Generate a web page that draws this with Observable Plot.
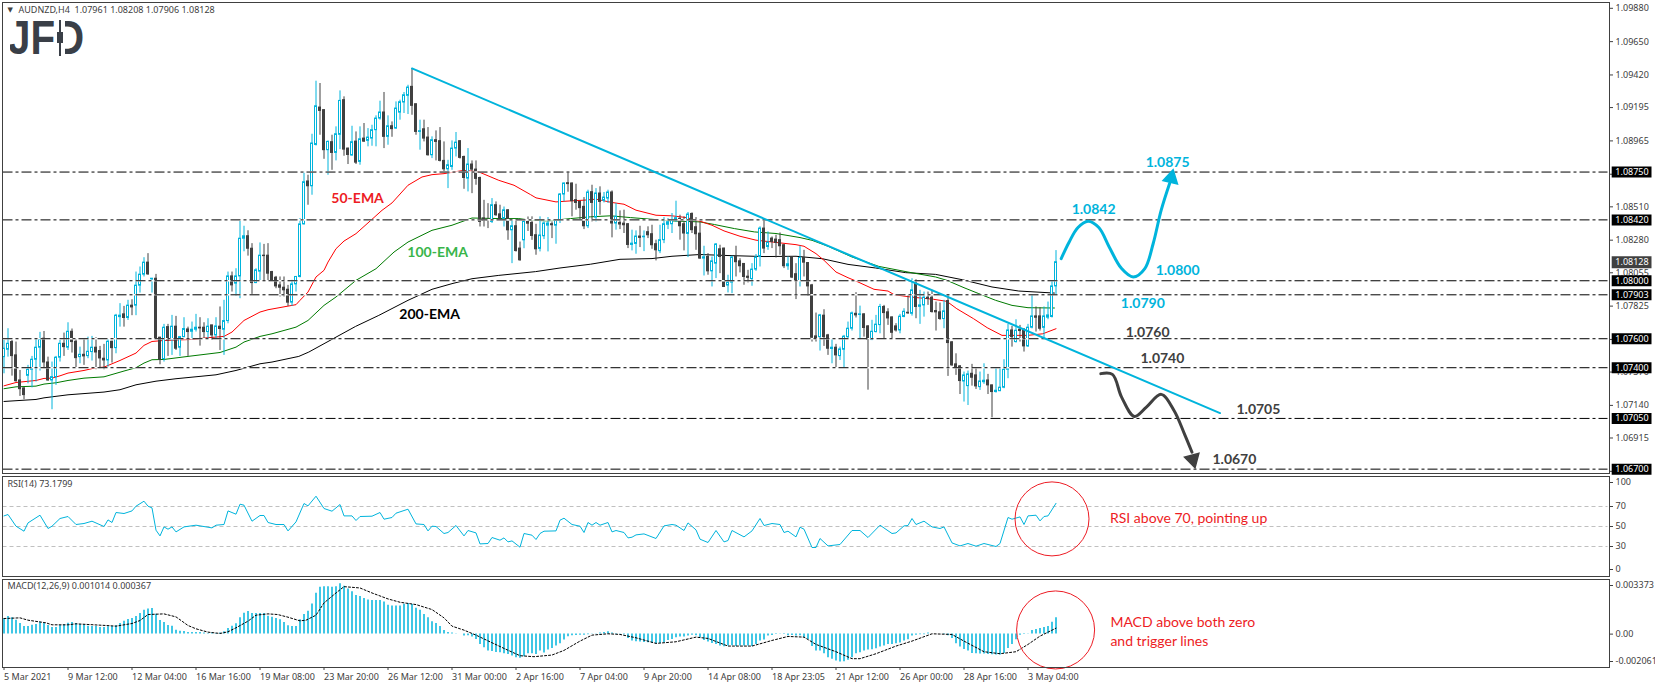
<!DOCTYPE html>
<html><head><meta charset="utf-8">
<script src="https://cdn.jsdelivr.net/npm/d3@7"></script>
<script src="https://cdn.jsdelivr.net/npm/@observablehq/plot@0.6"></script>
<style>
html,body{margin:0;padding:0;background:#fff;width:1655px;height:688px;overflow:hidden}
svg{display:block}
#wrap{position:relative;width:1655px;height:688px}
#logo{position:absolute;left:10px;top:20px;width:76px;height:36px;overflow:hidden;pointer-events:none}
#logo span{position:absolute;left:-2px;top:-4px;font:bold 48px/44px "Liberation Sans",sans-serif;color:#3a3f47;transform:scaleX(.84);transform-origin:left top}
#logo i{position:absolute;display:block}
</style></head><body>
<div id="wrap"></div>
<script>
// ---------- price data, in points (1.07531 = 107531), one entry per 4-hour bar ----------
const opens=[107473,107524,107577,107485,107312,107257,107344,107386,107455,107538,
107600,107436,107312,107335,107469,107565,107538,107648,107579,107473,
107489,107480,107508,107538,107515,107462,107450,107579,107535,107749,
107768,107743,107828,107828,107966,108042,108125,108010,108014,107607,
107460,107680,107595,107683,107538,107611,107664,107648,107662,107676,
107676,107646,107692,107623,107683,107662,107722,108030,107980,108030,
108290,108307,108221,107984,108063,108173,108173,108060,108021,107968,
107952,107938,107849,107975,108026,108389,108685,108652,108937,109195,
109177,108901,108956,108882,109007,109246,108912,108864,108960,108820,
108981,108965,108981,109039,109119,109161,108993,109066,109050,109160,
109230,109276,109338,109218,109027,109045,108988,108866,108970,108963,
108827,108769,108785,108912,108963,108854,108705,108802,108767,108709,
108430,108420,108406,108521,108458,108428,108486,108348,108376,108222,
108279,108406,108399,108314,108220,108307,108380,108390,108380,108413,
108595,108673,108671,108556,108544,108510,108376,108611,108436,108602,
108551,108567,108609,108395,108399,108394,108390,108247,108254,108305,
108300,108335,108321,108252,108204,108280,108386,108390,108413,108427,
108390,108323,108461,108369,108325,108153,108164,108065,108118,108217,
108222,107967,107987,108164,108134,108116,108028,108012,108077,108164,
108360,108233,108291,108284,108280,108245,108100,108160,108045,107998,
108157,108122,107968,107616,107611,107759,107623,107529,107538,107480,
107524,107611,107669,107772,107764,107768,107685,107591,107646,107694,
107819,107782,107747,107685,107657,107750,107779,107772,107980,107820,
107830,107883,107883,107791,107782,107736,107860,107575,107423,107409,
107305,107273,107358,107347,107266,107300,107312,107278,107232,107238,
107262,107386,107657,107577,107662,107662,107547,107676,107754,107754,
107675,107745,107750,107961];
const highs=[107588,107669,107588,107577,107381,107262,107416,107478,107600,107644,
107650,107473,107439,107478,107588,107639,107710,107667,107600,107542,
107593,107611,107616,107607,107547,107561,107600,107583,107768,107842,
107823,107865,107869,108060,108095,108159,108187,108016,108044,107610,
107699,107699,107761,107754,107616,107745,107680,107715,107768,107745,
107710,107738,107692,107745,107819,107865,108060,108060,108083,108410,
108376,108345,108256,108083,108261,108251,108256,108065,108030,108026,
108026,107968,108003,108030,108429,108751,108728,109011,109377,109361,
109180,108965,109004,109062,109310,109269,108915,109066,109027,109062,
109085,109050,109073,109138,109239,109299,109138,109096,109234,109246,
109299,109349,109465,109218,109108,109108,109057,108993,109034,109057,
108958,108831,108965,109023,108965,108860,108912,108827,108827,108715,
108555,108532,108567,108544,108521,108509,108490,108417,108412,108267,
108417,108440,108441,108390,108441,108406,108436,108406,108422,108602,
108675,108751,108675,108666,108549,108574,108625,108659,108636,108648,
108609,108625,108620,108533,108482,108487,108394,108349,108344,108376,
108344,108372,108383,108280,108383,108436,108429,108464,108549,108452,
108441,108471,108468,108436,108406,108238,108187,108164,108257,108245,
108225,108038,108169,108238,108152,108118,108072,108118,108181,108372,
108422,108337,108302,108314,108330,108250,108164,108164,108118,108238,
108210,108125,107975,107777,107768,107800,107630,107600,107561,107542,
107623,107715,107784,107918,107825,107772,107690,107727,107761,107837,
107830,107807,107750,107704,107768,107807,107899,108014,108007,107934,
107922,107922,107934,107853,107846,107865,107899,107580,107496,107415,
107370,107377,107423,107393,107370,107427,107354,107280,107393,107393,
107455,107699,107685,107731,107692,107670,107699,107899,107819,107814,
107819,107853,107998,108208];
const lows=[107358,107473,107342,107300,107202,107179,107289,107261,107301,107377,
107393,107307,107110,107278,107439,107478,107519,107501,107393,107427,
107416,107462,107446,107386,107393,107386,107404,107432,107496,107680,
107680,107726,107759,107759,107915,108026,108037,107915,107595,107420,
107439,107478,107485,107519,107478,107607,107478,107588,107646,107549,
107600,107600,107588,107600,107519,107485,107703,107922,107892,107876,
108200,108170,107906,107980,107998,107998,107998,108000,107945,107888,
107888,107823,107823,107922,108020,108385,108521,108590,108930,109004,
108838,108728,108762,108827,108905,108859,108802,108860,108802,108797,
108955,108924,108928,108924,109108,108912,108935,108990,109045,109108,
109154,109147,109142,109004,108901,108958,108860,108843,108827,108820,
108753,108636,108762,108854,108840,108631,108613,108601,108659,108371,
108371,108360,108395,108445,108417,108371,108279,108118,108198,108135,
108221,108340,108279,108176,108199,108284,108199,108291,108252,108395,
108544,108611,108441,108487,108422,108353,108360,108406,108406,108452,
108537,108533,108296,108349,108353,108326,108222,108206,108183,108229,
108201,108291,108217,108137,108187,108256,108353,108326,108402,108280,
108206,108160,108326,108210,108148,108033,108038,107957,108015,108049,
107955,107916,107911,108026,108054,107969,107985,107962,108065,108095,
108187,108210,108222,108157,108176,108084,108072,108015,107870,107957,
108026,107892,107577,107577,107515,107547,107485,107427,107400,107450,
107400,107600,107653,107743,107593,107611,107245,107587,107640,107634,
107600,107692,107600,107646,107634,107745,107768,107756,107738,107699,
107749,107830,107777,107653,107727,107669,107340,107409,107347,107215,
107163,107139,107273,107250,107243,107285,107215,107054,107225,107235,
107255,107324,107542,107570,107577,107508,107540,107668,107646,107653,
107593,107731,107743,107906];
const closes=[107531,107565,107480,107307,107252,107211,107386,107455,107538,107593,
107436,107312,107335,107469,107565,107542,107648,107577,107466,107489,
107478,107510,107538,107505,107464,107450,107579,107535,107759,107759,
107743,107828,107816,107966,108042,108125,108044,108014,107600,107455,
107676,107588,107683,107531,107611,107667,107646,107662,107676,107671,
107646,107683,107623,107685,107667,107722,108030,107968,108030,108290,
108307,108221,107984,108072,108173,108170,108049,108003,107961,107952,
107934,107849,107975,108026,108389,108680,108652,108947,109204,109172,
108901,108958,108882,109011,109241,108905,108868,108956,108815,108976,
108960,108988,109039,109119,109161,108993,109066,109046,109188,109232,
109280,109333,109207,109027,109032,108981,108866,108970,108958,108827,
108769,108797,108912,108953,108848,108709,108802,108767,108703,108406,
108413,108415,108521,108452,108422,108486,108348,108376,108205,108141,
108406,108394,108309,108217,108312,108395,108395,108383,108418,108595,
108671,108667,108549,108537,108501,108376,108609,108537,108602,108544,
108574,108609,108395,108441,108388,108383,108247,108256,108305,108296,
108304,108314,108245,108210,108280,108390,108404,108413,108432,108376,
108326,108457,108349,108321,108153,108162,108065,108134,108250,108164,
107957,107987,108160,108128,108100,108026,108020,108077,108160,108360,
108222,108263,108268,108261,108238,108100,108114,108022,108003,108157,
108125,107961,107607,107604,107761,107611,107531,107538,107485,107526,
107614,107669,107775,107761,107768,107674,107593,107648,107697,107819,
107777,107740,107641,107657,107752,107786,107775,107934,107819,107830,
107883,107874,107784,107782,107736,107789,107570,107416,107397,107308,
107347,107354,107331,107271,107305,107310,107278,107232,107241,107262,
107386,107657,107611,107655,107653,107547,107676,107754,107745,107669,
107754,107761,107961,108128];

// moving averages: bar number and value in points
const ema50Bars=[0,3,8,10,12,14,16,20,23,25,29,33,35,37,40,47,51,55,57,60,64,66,73,74,76,78,80,81,83,85,88,92,94.5,97,101,104.5,107,110,115,118.7,123.7,127.5,131.6,133,138,141.6,145,148,152,155,158,163,167,170.6,174,177,180,184,188,198,200,203,205,208,211,213,217.5,221,222.5,226.6,232.4,235.7,238.2,242.4,245.8,249.5,255.9,259.7,263];
const ema50Vals=[107275,107298,107312,107326,107328,107344,107363,107381,107400,107404,107450,107501,107554,107581,107588,107595,107607,107616,107646,107726,107784,107800,107835,107865,107922,108026,108072,108129,108221,108274,108325,108424,108486,108537,108659,108716,108732,108739,108762,108751,108693,108659,108595,108572,108544,108551,108556,108563,108540,108528,108487,108452,108448,108436,108411,108383,108344,108307,108280,108249,108238,108187,108141,108060,108021,107998,107941,107929,107904,107888,107872,107858,107807,107738,107676,107623,107623,107634,107669];
const ema100Bars=[0,3,8,10,13,16,20,25,30,33,35,37,40,46,54,58,60,64,67,73,76,80,83,88,93,97.5,101,107,112,117,123.7,128.7,131.6,136,141.6,146.6,151.6,156.6,161.6,167,174,177.6,182.6,187.6,193,199,202,206,212,218.7,226,232.9,235.7,240,243.7,247.9,252,256,262.6];
const ema100Vals=[107255,107268,107273,107287,107296,107312,107328,107337,107377,107400,107432,107455,107457,107478,107505,107542,107577,107616,107634,107680,107726,107830,107888,108003,108083,108198,108267,108348,108383,108433,108429,108429,108418,108413,108429,108441,108448,108436,108425,108413,108406,108388,108360,108337,108326,108298,108279,108238,108164,108099,108060,108026,108003,107952,107911,107865,107830,107814,107812];
const ema200Bars=[0,8,10,16,25,29,33,38,43,53,58,61,64,67,73.7,76.2,83,87.9,93.7,101,107,112,117,123.7,132.9,139,146.6,154,162,167,174,181,190,198,204.6,211,217.9,225.4,232.9,239.6,247,253.7,262.6];
const ema200Vals=[107167,107181,107192,107213,107232,107248,107282,107307,107324,107351,107381,107404,107427,107439,107478,107508,107611,107685,107761,107865,107941,107980,108014,108037,108063,108088,108114,108148,108153,108169,108181,108174,108167,108169,108152,108113,108088,108056,108044,108007,107957,107929,107915];

// horizontal levels and tick labels of the price pane
const levels=[108750,108420,108000,107903,107600,107400,107050,106700];
const priceTicks=[109880,109650,109420,109195,108965,108735,108510,108280,108055,107825,107595,107370,107140,106915,106685];
const lastPrice=108128;

// RSI(14)
const rsiBars=[0,1,3,5,6,9,11,12,14,16,18,20,22,25,26,27,28,30,32,33,35,36,37,38,39,40,41,42,43,45,48,52,53,55,56,58,59,60,62,64,65,66,68,70,71,73,75,76,78,80,82,84,85,87,88,89,92,94,95,97,98,101,103,105,106,107,108,110,111,113,115,116,118,119,121,122,124,125,126,127,129,130,132,133,134,135,138,139,140,142,144,145,146,147,148,149,151,152,153,155,156,157,158,160,163,165,167,168,170,171,173,174,176,178,180,181,182,185,187,189,190,192,194,195,196,198,199,200,202,203,204,206,209,212,214,216,219,222,223,225,226,227,228,230,232,234,235,237,239,241,243,245,248,249,251,252,254,255,256,258,259,260,261,263];
const rsiVals=[60.6,62,50.3,45.3,53.6,61.3,48,50.3,58,60,52,53,55.3,50,56.6,54,64,63,65.6,70.3,75.3,70.3,68.6,46.3,40.6,49.6,47.3,49.6,44.6,49.6,51.3,48.6,51.3,52,65.6,62.3,72.3,71.3,55.3,61,61,54,52,52,45.6,54.6,73,70.6,80.3,68,65.3,72,60.6,60.6,56,60,60.3,64,57.3,59,63.3,67.3,52.6,52,45.6,50.3,50,43,44,51,40.6,46,43.6,32.6,33,39,36.3,38.6,34.6,35.6,29.3,43,41.3,37,43,45.3,45.6,56.3,58.3,52,50.3,44,54,51.3,54,51.3,54,44.6,46,44,38.6,39.3,41.6,42.6,38,50.6,52,51.3,46,53.6,46.6,37.3,34,46,34.6,36,46,39.6,45.6,58,51,53,52,44,45.3,39.6,49.3,47.3,29,29,38,30.6,32,46,46,39,51.3,43,43.6,50.6,51,58,52,55.3,49.6,48,49.6,33.6,30.6,33,30.3,33,30,33,59,57.3,59.6,52,60.6,61.3,55.6,60,60.6,73.18];
const rsiGuides=[70,50,30];
const rsiTicks=[70,50,30];

// MACD(12,26,9), in millionths
const macdHist=[943,1087,1005,861,656,472,472,554,595,738,
656,533,410,410,533,574,677,718,656,595,
574,492,472,472,410,410,451,472,513,656,
800,902,964,1087,1271,1476,1558,1579,1230,841,
718,533,492,246,185,164,103,103,103,103,
62,41,62,41,62,144,349,492,636,1005,
1292,1394,1271,1271,1271,1271,1107,1046,964,882,
718,513,472,472,882,1210,1415,1866,2522,2891,
2932,2932,2891,2932,3116,2952,2788,2624,2378,2317,
2194,2112,2071,2071,2071,1989,1784,1743,1743,1743,
1845,1886,1825,1599,1476,1210,1005,759,656,472,
226,103,62,20,0,-123,-103,-185,-328,-636,
-841,-1046,-1066,-1128,-1148,-1210,-1251,-1353,-1456,-1497,
-1394,-1210,-1210,-1251,-1046,-1169,-984,-882,-738,-595,
-369,-164,-103,-82,-62,-62,-41,20,20,62,
103,144,62,41,20,-41,-267,-431,-472,-492,
-513,-533,-574,-615,-574,-533,-390,-328,-226,-185,
-185,-123,-62,-103,-226,-390,-492,-574,-636,-738,
-779,-738,-718,-759,-738,-738,-738,-759,-636,-431,
-369,-123,-82,-20,20,-20,-103,-82,-123,-103,
-226,-328,-759,-1046,-1046,-1210,-1456,-1558,-1661,-1722,
-1702,-1620,-1456,-1210,-1148,-1046,-984,-964,-902,-800,
-738,-636,-636,-595,-554,-431,-349,-123,-62,-41,
-41,62,0,0,0,-20,-103,-267,-595,-800,
-943,-1046,-1189,-1210,-1230,-1230,-1251,-1271,-1292,-1292,
-1189,-882,-636,-349,-62,-20,20,226,287,349,
410,472,738,1014];
const signalBars=[0,4,6,10.5,12,16,18,25.5,28,32,34,36,40,43,46,48,51,54,56,58,61,63,66,68.4,71,74,75.5,78,80,83,85,89,92,96,99,103,107,110,112,115,118,122,125,129,132.5,137,140,144,147,151,154,158,163,168,173,176,181,187,192,196,200,203,208,212,214,218,223,227,232,237,240,245,249,253,256,259,263];
const signalVals=[964,1005,861,697,574,574,636,533,492,656,841,1210,1250,1066,533,328,123,41,144,390,800,1169,1250,1210,1046,820,861,1169,1927,2542,2932,2850,2542,2173,1968,1825,1517,1005,492,246,-62,-533,-882,-1333,-1394,-1292,-1005,-431,-62,20,-20,-226,-574,-472,-185,-267,-738,-738,-390,-144,-185,-636,-1087,-1517,-1517,-1210,-738,-431,20,-20,-431,-1087,-1210,-1087,-636,-123,367];
const macdAxisVals=[0.003373,0,-0.002061];

// time axis
const timeTickBars=[0,16,32,48,64,80,96,112,128,144,160,176,192,208,224,240,256];
const timeTickLabels=["5 Mar 2021","9 Mar 12:00","12 Mar 04:00","16 Mar 16:00","19 Mar 08:00","23 Mar 20:00","26 Mar 12:00","31 Mar 00:00","2 Apr 16:00","7 Apr 04:00","9 Apr 20:00","14 Apr 08:00","18 Apr 23:05","21 Apr 12:00","26 Apr 00:00","28 Apr 16:00","3 May 04:00"];

// drawn annotations
const trendBars=[102,304], trendVals=[109465,107087];
const upBars=[264.3,266.3,268.5,271,273.7,276.3,279.4,282.3,285.2,287.3,289.3,291.4];
const upVals=[108153,108268,108367,108411,108367,108233,108084,108026,108084,108257,108487,108671];
const downBars=[274.2,277.1,279.4,282.6,285.6,289.3,292.5,295.1,297];
const downVals=[107359,107354,107197,107064,107128,107216,107105,106944,106817];
const blueTexts=["1.0875","1.0842","1.0800","1.0790"];
const blueBars=[290.9,272.4,293.4,284.7], blueVals=[108813,108493,108072,107844];
const darkTexts=["1.0760","1.0740","1.0705","1.0670"];
const darkBars=[285.9,289.6,313.6,307.6], darkVals=[107644,107464,107112,106767];
const emaTexts=["50-EMA","100-EMA","200-EMA"];
const emaBars=[88.4,108.4,106.4], emaVals=[108569,108196,107768], emaColors=["#ed1c24","#39b54a","#000"];

// ---------- styling ----------
const BLUE="#00b4dc", DARK="#404040", RED="#ed1c24";
const AXF='"Noto Sans",sans-serif', LBL='Lato,sans-serif';
const W=1655, xDomain=[-0.375,401.375];
const p=v=>v/1e5;
const pair=(xs,ys,f=p)=>xs.map((x,i)=>({x,y:f(ys[i])}));
const bars=closes.map((c,i)=>({i,o:p(opens[i]),h:p(highs[i]),l:p(lows[i]),c:p(c),up:c>=opens[i]}));
const col=d=>d.up?BLUE:DARK;
const tagX1=402.05, tagX2=412, tagMid=402.55;

// ---------- price pane ----------
const levelRows=levels.map(p);
const main=Plot.plot({width:W,height:475,marginLeft:2,marginRight:46,marginTop:2,marginBottom:2,
  style:{background:"#fff",overflow:"visible"},
  x:{domain:xDomain,axis:null},
  y:{domain:[1.06670,1.09920],axis:null},
  marks:[
    Plot.line(pair(ema200_b(),ema200Vals),{x:"x",y:"y",stroke:"#000",strokeWidth:1}),
    Plot.line(pair(ema100Bars,ema100Vals),{x:"x",y:"y",stroke:"#007a00",strokeWidth:1}),
    Plot.line(pair(ema50Bars,ema50Vals),{x:"x",y:"y",stroke:"#ff0000",strokeWidth:1}),
    Plot.ruleX(bars,{x:"i",y1:"l",y2:"h",stroke:col,strokeWidth:1}),
    Plot.rect(bars,{x1:d=>d.i-.25,x2:d=>d.i+.25,y1:d=>Math.min(d.o,d.c),y2:d=>Math.max(d.o,d.c),fill:d=>d.up?"#fff":DARK,stroke:col,strokeWidth:1}),
    Plot.ruleY(levelRows,{x1:-.25,x2:401,stroke:"#fff",strokeWidth:1.6}),
    Plot.ruleY(levelRows,{x1:-.25,x2:401,stroke:"#000",strokeWidth:1,strokeDasharray:"10 3 3 3"}),
    Plot.line(pair(trendBars,trendVals),{x:"x",y:"y",stroke:BLUE,strokeWidth:2}),
    Plot.line(pair(upBars,upVals),{x:"x",y:"y",stroke:BLUE,strokeWidth:3,curve:"catmull-rom"}),
    Plot.dot([{x:291.8,y:1.08708}],{x:"x",y:"y",symbol:"triangle",r:5.5,fill:BLUE,stroke:BLUE,rotate:13}),
    Plot.line(pair(downBars,downVals),{x:"x",y:"y",stroke:DARK,strokeWidth:3,curve:"catmull-rom"}),
    Plot.dot([{x:297.2,y:1.06767}],{x:"x",y:"y",symbol:"triangle",r:5.5,fill:DARK,stroke:DARK,rotate:165}),
    Plot.text(blueTexts,{x:(d,i)=>blueBars[i],y:(d,i)=>p(blueVals[i]),text:d=>d,fill:BLUE,fontWeight:700,fontSize:14,fontFamily:LBL}),
    Plot.text(darkTexts,{x:(d,i)=>darkBars[i],y:(d,i)=>p(darkVals[i]),text:d=>d,fill:DARK,fontWeight:700,fontSize:14,fontFamily:LBL}),
    Plot.text(emaTexts,{x:(d,i)=>emaBars[i],y:(d,i)=>p(emaVals[i]),text:d=>d,fill:(d,i)=>emaColors[i],fontWeight:700,fontSize:14,fontFamily:LBL}),
    Plot.frame({stroke:DARK,strokeWidth:1}),
    Plot.axisY(priceTicks.map(p),{anchor:"right",tickSize:3,tickPadding:3,tickFormat:d=>d.toFixed(5),fontSize:9,fontFamily:AXF,fill:DARK,stroke:DARK,label:null}),
    Plot.ruleY(levelRows,{x1:tagX1,x2:tagX2,stroke:"#000",strokeWidth:11}),
    Plot.ruleY([p(lastPrice)],{x1:tagX1,x2:tagX2,stroke:DARK,strokeWidth:12}),
    Plot.text(levelRows.concat(p(lastPrice)),{x:407,y:d=>d,text:d=>d.toFixed(5),fill:"#fff",fontSize:9,fontFamily:AXF}),
    Plot.text(["▼"],{frameAnchor:"top-left",dx:5,dy:5,fontSize:7,fill:DARK,fontFamily:'"DejaVu Sans"'}),
    Plot.text(["AUDNZD,H4  1.07961 1.08208 1.07906 1.08128"],{frameAnchor:"top-left",dx:16,dy:4,fontSize:9,fill:DARK,fontFamily:AXF})
  ]});
function ema200_b(){return ema200Bars}

// ---------- RSI pane ----------
const rsi=Plot.plot({width:W,height:102,marginLeft:2,marginRight:46,marginTop:1,marginBottom:1,
  style:{background:"#fff",overflow:"visible"},
  x:{domain:xDomain,axis:null},
  y:{domain:[0,100],axis:null},
  marks:[
    Plot.ruleY(rsiGuides,{x1:-.25,x2:401,stroke:"#c0c0c0",strokeWidth:1,strokeDasharray:"4 3"}),
    Plot.line(pair(rsiBars,rsiVals,v=>v),{x:"x",y:"y",stroke:BLUE,strokeWidth:1}),
    Plot.dot([{x:262,y:57.6}],{x:"x",y:"y",r:37,stroke:RED,fill:"none",strokeWidth:1}),
    Plot.text(["RSI above 70, pointing up"],{x:276.5,y:58.3,textAnchor:"start",fill:RED,fontSize:14,fontFamily:LBL}),
    Plot.frame({stroke:DARK,strokeWidth:1}),
    Plot.axisY(rsiTicks,{anchor:"right",tickSize:3,tickPadding:3,fontSize:9,fontFamily:AXF,fill:DARK,stroke:DARK,label:null}),
    Plot.axisY([100],{anchor:"right",tickSize:3,tickPadding:3,dy:6,fontSize:9,fontFamily:AXF,fill:DARK,stroke:DARK,label:null}),
    Plot.axisY([0],{anchor:"right",tickSize:3,tickPadding:3,dy:-7,fontSize:9,fontFamily:AXF,fill:DARK,stroke:DARK,label:null}),
    Plot.text(["RSI(14) 73.1799"],{frameAnchor:"top-left",dx:5,dy:4,fontSize:9,fill:DARK,fontFamily:AXF})
  ]});

// ---------- MACD pane ----------
const m=v=>v/1e6;
const macdRows=macdHist.map((v,i)=>({i,v:m(v)}));
const macd=Plot.plot({width:W,height:111,marginLeft:2,marginRight:46,marginTop:2,marginBottom:21,
  style:{background:"#fff",overflow:"visible"},
  x:{domain:xDomain,axis:null},
  y:{domain:[macdAxisVals[2],macdAxisVals[0]],axis:null},
  marks:[
    Plot.ruleX(macdRows,{x:"i",y1:0,y2:"v",stroke:BLUE,strokeWidth:1.5}),
    Plot.line(pair(signalBars,signalVals,m),{x:"x",y:"y",stroke:"#000",strokeWidth:1,strokeDasharray:"2 2"}),
    Plot.dot([{x:262.9,y:0.000258}],{x:"x",y:"y",r:39,stroke:RED,fill:"none",strokeWidth:1}),
    Plot.text(["MACD above both zero"],{x:276.6,y:0.00071,textAnchor:"start",fill:RED,fontSize:14,fontFamily:LBL}),
    Plot.text(["and trigger lines"],{x:276.6,y:-0.000455,textAnchor:"start",fill:RED,fontSize:14,fontFamily:LBL}),
    Plot.frame({stroke:DARK,strokeWidth:1}),
    Plot.axisY([0],{anchor:"right",tickSize:3,tickPadding:3,tickFormat:()=>"0.00",fontSize:9,fontFamily:AXF,fill:DARK,stroke:DARK,label:null}),
    Plot.axisY([macdAxisVals[0]],{anchor:"right",tickSize:3,tickPadding:3,dy:6,tickFormat:d=>d.toFixed(6),fontSize:9,fontFamily:AXF,fill:DARK,stroke:DARK,label:null}),
    Plot.axisY([macdAxisVals[2]],{anchor:"right",tickSize:3,tickPadding:3,dy:-6,tickFormat:d=>d.toFixed(6),fontSize:9,fontFamily:AXF,fill:DARK,stroke:DARK,label:null}),
    Plot.axisX(timeTickBars,{anchor:"bottom",tickSize:3,tickPadding:3,textAnchor:"start",tickFormat:d=>timeTickLabels[timeTickBars.indexOf(d)],fontSize:9,fontFamily:AXF,fill:DARK,stroke:DARK,label:null}),
    Plot.text(["MACD(12,26,9) 0.001014 0.000367"],{frameAnchor:"top-left",dx:5,dy:3,fontSize:9,fill:DARK,fontFamily:AXF})
  ]});

const wrap=document.getElementById("wrap");
wrap.append(main,rsi,macd);
const logo=document.createElement("div");
logo.id="logo";
logo.innerHTML='<span>JFD</span><i style="left:45px;top:0;width:10px;height:36px;background:#fff"></i><i style="left:49px;top:0;width:2px;height:36px;background:#3a3f47"></i><i style="left:47px;top:12px;width:6px;height:11px;background:#3a3f47"></i>';
wrap.append(logo);
</script></body></html>
